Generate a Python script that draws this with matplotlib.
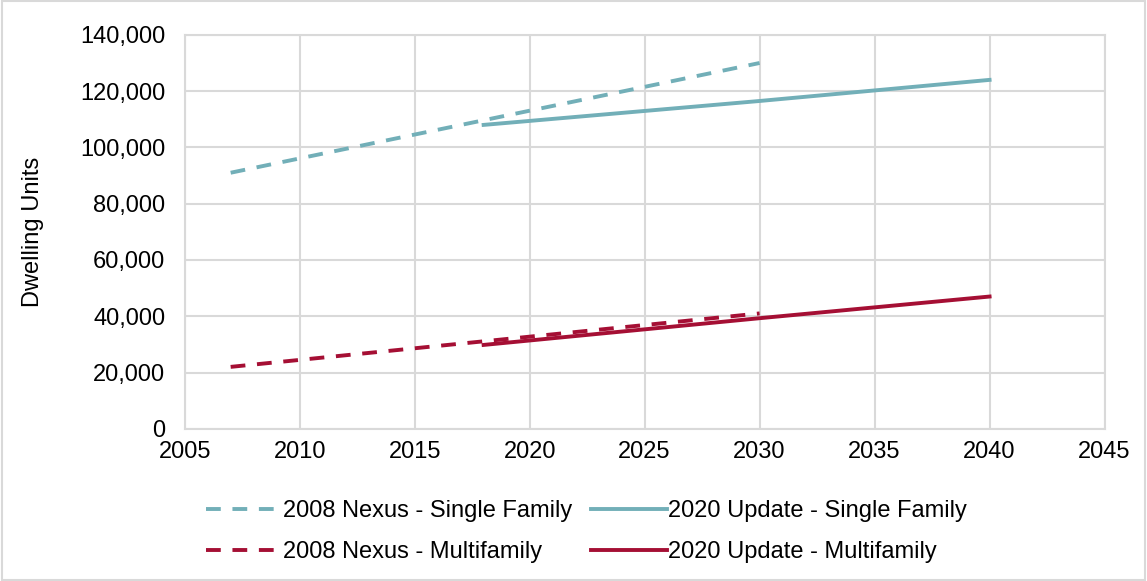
import matplotlib
matplotlib.use("Agg")
import matplotlib.pyplot as plt
from matplotlib.ticker import FuncFormatter
from matplotlib.patches import Rectangle

# -------------------------
# Data
# -------------------------
nexus_years = [2007, 2030]
nexus_sf = [91000, 130000]
nexus_mf = [22000, 41000]

update_years = [2018, 2030, 2040]
update_sf = [108000, 116500, 124000]
update_mf = [29800, 39300, 47000]

teal = "#72AFB8"
red = "#A50F34"
grid_col = "#D9D9D9"

plt.rcParams["font.family"] = ["Liberation Sans", "DejaVu Sans"]

fig = plt.figure(figsize=(11.47, 5.81), dpi=100)
ax = fig.add_axes([0.161, 0.262, 0.802, 0.678])

dash = (0, (3.8, 3.0))
l1, = ax.plot(nexus_years, nexus_sf, color=teal, lw=2.8, ls=dash,
              label="2008 Nexus - Single Family")
l2, = ax.plot(update_years, update_sf, color=teal, lw=2.8,
              label="2020 Update - Single Family")
l3, = ax.plot(nexus_years, nexus_mf, color=red, lw=2.8, ls=dash,
              label="2008 Nexus - Multifamily")
l4, = ax.plot(update_years, update_mf, color=red, lw=2.8,
              label="2020 Update - Multifamily")

ax.set_xlim(2005, 2045)
ax.set_ylim(0, 140000)
ax.set_xticks(range(2005, 2046, 5))
ax.set_yticks(range(0, 140001, 20000))
ax.yaxis.set_major_formatter(FuncFormatter(lambda v, p: f"{int(v):,}"))
ax.tick_params(length=0, labelsize=17, colors="black")
ax.tick_params(axis="y", pad=14)
ax.tick_params(axis="x", pad=9)
ax.grid(True, color=grid_col, lw=1.5)
ax.set_axisbelow(True)
for s in ax.spines.values():
    s.set_color(grid_col)
    s.set_linewidth(1.5)

ax.set_ylabel("Dwelling Units", fontsize=17, labelpad=26)

# column-wise fill -> rows: single family / multifamily
ax.legend([l1, l3, l2, l4], [l1.get_label(), l3.get_label(), l2.get_label(), l4.get_label()],
          loc="upper center", bbox_to_anchor=(0.437, -0.128), ncol=2,
          frameon=False, fontsize=17, handlelength=3.2, handletextpad=0.05,
          columnspacing=0.8, labelspacing=0.78)

# figure border
fig.patches.append(Rectangle((0.002, 0.002), 0.996, 0.996, transform=fig.transFigure,
                             fill=False, edgecolor="#D9D9D9", lw=1.5))

plt.savefig("out.png", dpi=100)
